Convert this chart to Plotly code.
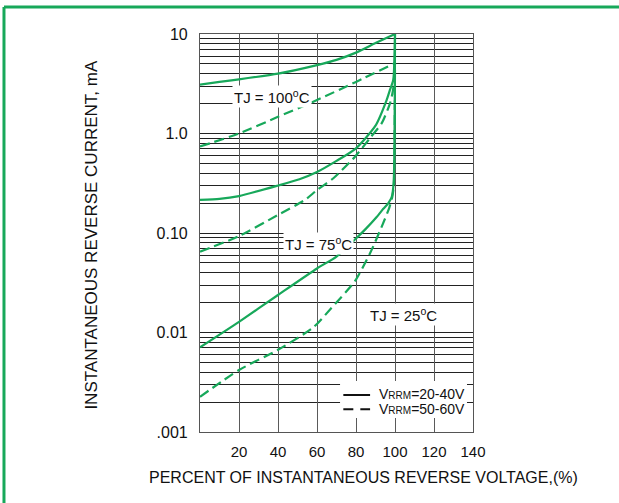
import math
import plotly.graph_objects as go

# ---- data ----
x_s100 = [0, 10, 20, 40, 60, 70, 80, 90, 100]
y_s100 = [3.1, 3.3, 3.5, 4.0, 4.87, 5.5, 6.5, 8.1, 10]

x_d100 = [0, 20, 40, 60, 80, 100]
y_d100 = [0.74, 1.0, 1.47, 2.17, 3.3, 5.1]

x_s75 = [0, 10, 20, 40, 51, 60, 70, 80, 90, 95.7, 97.4, 99.1, 100]
y_s75 = [0.215, 0.22, 0.235, 0.30, 0.347, 0.41, 0.53, 0.71, 1.2, 2.17, 2.74, 3.45, 10]

x_d75 = [0, 20, 40, 53.8, 60, 68.4, 79.5, 87.2, 93.2, 97.4, 99, 100]
y_d75 = [0.065, 0.093, 0.152, 0.215, 0.27, 0.355, 0.585, 0.9, 1.27, 2.0, 2.74, 5.1]

x_s25 = [0, 20, 40, 60, 70, 80, 85, 90.6, 94, 96.6, 98.3, 99.3, 100]
y_s25 = [0.0071, 0.0128, 0.0238, 0.044, 0.058, 0.088, 0.11, 0.145, 0.175, 0.2, 0.23, 0.32, 10]

x_d25 = [0, 20, 40, 58, 66.7, 79.5, 87.2, 93.2, 97.1, 98.6, 99.4, 100]
y_d25 = [0.00226, 0.0042, 0.0067, 0.0112, 0.017, 0.033, 0.0625, 0.116, 0.18, 0.23, 0.3, 5.1]

y_tickvals = [0.001, 0.01, 0.1, 1, 10]
y_ticktext = [".001", "0.01", "0.10", "1.0", "10"]
x_tickvals = [20, 40, 60, 80, 100, 120, 140]
x_ticktext = ["20", "40", "60", "80", "100", "120", "140"]

labels = ["TJ = 100<sup>o</sup>C", "TJ = 75<sup>o</sup>C", "TJ = 25<sup>o</sup>C"]
label_x = [37, 61, 104.3]
label_y = [2.33, 0.0776, 0.015]

legend_names = ["V<span style='font-size:10px'>RRM</span>=20-40V",
                "V<span style='font-size:10px'>RRM</span>=50-60V"]

GREEN = "#17a85a"
FONT = "Liberation Sans, Arial, sans-serif"

fig = go.Figure()
solid = dict(color=GREEN, width=2.2, smoothing=0.6)
dashed = dict(color=GREEN, width=2.2, dash="10px,5px", smoothing=0.6)
for xs, ys, ln in [(x_s100, y_s100, solid), (x_d100, y_d100, dashed),
                   (x_s75, y_s75, solid), (x_d75, y_d75, dashed),
                   (x_s25, y_s25, solid), (x_d25, y_d25, dashed)]:
    fig.add_trace(go.Scatter(x=xs, y=ys, mode="lines", line=dict(shape="spline", **ln),
                             showlegend=False, hoverinfo="skip"))

# temperature labels with white boxes (log axis -> annotation y in log10 units)
for t, lx, ly in zip(labels, label_x, label_y):
    fig.add_annotation(x=lx, y=math.log10(ly), xref="x", yref="y", text=t, showarrow=False,
                       bgcolor="white", font=dict(family=FONT, size=15, color="#111"),
                       borderpad=1)

# legend box (white), sample lines and labels
shapes = []
shapes.append(dict(type="rect", xref="paper", yref="paper", x0=0.513, x1=0.978,
                   y0=0.035, y1=0.128, fillcolor="white", line=dict(width=0), layer="above"))
shapes.append(dict(type="line", xref="paper", yref="paper", x0=0.525, x1=0.623,
                   y0=0.093, y1=0.093, line=dict(color="#111", width=2), layer="above"))
shapes.append(dict(type="line", xref="paper", yref="paper", x0=0.525, x1=0.623,
                   y0=0.057, y1=0.057, line=dict(color="#111", width=2, dash="10px,7px"),
                   layer="above"))
for nm, yy in zip(legend_names, [0.0947, 0.0583]):
    fig.add_annotation(x=0.652, y=yy, xref="paper", yref="paper", text=nm, showarrow=False,
                       xanchor="left", yanchor="middle", borderpad=0,
                       font=dict(family=FONT, size=14, color="#111"))

# green frame
shapes.append(dict(type="line", xref="paper", yref="paper", x0=-0.718, x1=1.6,
                   y0=1.068, y1=1.068, line=dict(color=GREEN, width=3)))
shapes.append(dict(type="line", xref="paper", yref="paper", x0=-0.718, x1=-0.718,
                   y0=1.068, y1=-0.3, line=dict(color=GREEN, width=3)))

# axis titles
fig.add_annotation(x=0.6, y=-0.115, xref="paper", yref="paper",
                   text="PERCENT OF INSTANTANEOUS REVERSE VOLTAGE,(%)", showarrow=False,
                   xanchor="center", yanchor="middle",
                   font=dict(family="Liberation Sans Narrow, Arial Narrow, Liberation Sans, sans-serif",
                             size=16, color="#111"))
fig.add_annotation(x=-0.397, y=0.495, xref="paper", yref="paper",
                   text="INSTANTANEOUS REVERSE CURRENT, mA", showarrow=False,
                   textangle=-90, xanchor="center", yanchor="middle",
                   font=dict(family=FONT, size=17, color="#111"))

fig.update_layout(
    width=619, height=503,
    margin=dict(l=200, r=146, t=34, b=71),
    paper_bgcolor="white", plot_bgcolor="white",
    shapes=shapes, showlegend=False,
    xaxis=dict(range=[0, 140], tickvals=x_tickvals, ticktext=x_ticktext,
               showgrid=True, gridcolor="#5a5a5a", gridwidth=1.4,
               showline=True, linecolor="#555", linewidth=1.2, mirror=True,
               ticks="outside", ticklen=6, tickcolor="rgba(0,0,0,0)",
               tickfont=dict(family=FONT, size=15, color="#111"), zeroline=False),
    yaxis=dict(type="log", range=[-3, 1], tickvals=y_tickvals, ticktext=y_ticktext,
               showgrid=True, gridcolor="#222", gridwidth=1.2,
               showline=True, linecolor="#555", linewidth=1.2, mirror=True,
               ticks="outside", ticklen=8, tickcolor="rgba(0,0,0,0)",
               tickfont=dict(family=FONT, size=16, color="#111"),
               minor=dict(dtick="D1", showgrid=True, gridcolor="#222", gridwidth=1.1)),
)

fig.write_html("out.html", config={"displayModeBar": False},
               post_script="document.body.style.margin='0';")
